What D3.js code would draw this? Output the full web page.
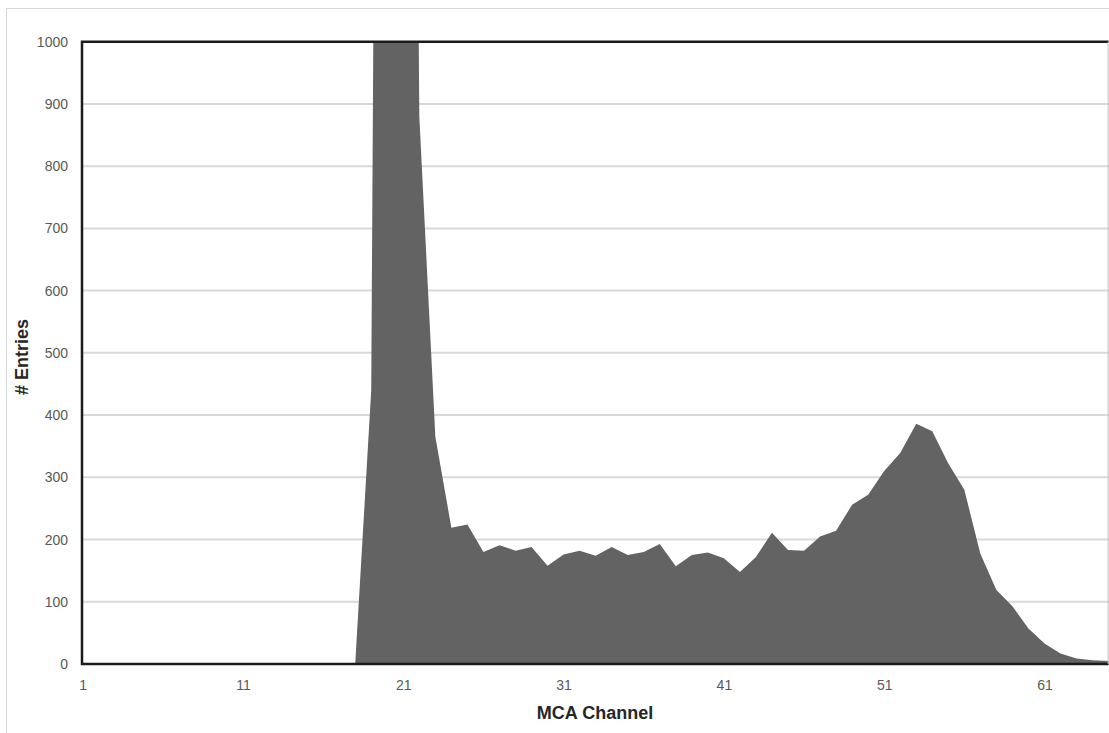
<!DOCTYPE html>
<html>
<head>
<meta charset="utf-8">
<script src="https://cdn.jsdelivr.net/npm/d3@7/dist/d3.min.js"></script>
<style>
  html, body { margin: 0; padding: 0; background: #ffffff; }
  svg { display: block; }
</style>
</head>
<body>
<svg id="chart" width="1109" height="733"></svg>
<script>
// MCA spectrum: counts per channel (channels 1..65)
const channels = d3.range(1, 66);
const entries = [
  0, 0, 0, 0, 0, 0, 0, 0, 0, 0,          // 1-10
  0, 0, 0, 0, 0, 0, 0, 0, 440, 4800,     // 11-20
  4200, 880, 365, 219, 224, 180, 191, 182, 188, 158, // 21-30
  176, 182, 174, 188, 175, 180, 193, 157, 175, 179,  // 31-40
  170, 148, 172, 211, 183, 182, 205, 214, 256, 272,  // 41-50
  310, 339, 386, 374, 322, 280, 177, 119, 93, 57,    // 51-60
  33, 17, 9, 6, 5                                    // 61-65
];
const xTickValues = [1, 11, 21, 31, 41, 51, 61];
const yTickValues = [0, 100, 200, 300, 400, 500, 600, 700, 800, 900, 1000];

const svg = d3.select("#chart");

// outer chart frame
svg.append("rect")
  .attr("x", 6.5).attr("y", 8.5)
  .attr("width", 1120).attr("height", 740)
  .attr("fill", "none")
  .attr("stroke", "#d9d9d9")
  .attr("stroke-width", 1);

const plotLeft = 82, plotRight = 1108.6, plotTop = 41.7, plotBottom = 664;

const x = d3.scaleLinear().domain([1, 65]).range([plotLeft + 0.7, plotRight]);
const y = d3.scaleLinear().domain([0, 1000]).range([plotBottom, plotTop]);

// horizontal gridlines
svg.append("g")
  .selectAll("line")
  .data(yTickValues.filter(d => d > 0 && d < 1000))
  .join("line")
  .attr("x1", plotLeft).attr("x2", plotRight)
  .attr("y1", d => y(d)).attr("y2", d => y(d))
  .attr("stroke", "#d9d9d9")
  .attr("stroke-width", 2);

// clip the series to the plot area (peak runs off the top)
svg.append("clipPath").attr("id", "plotClip")
  .append("rect")
  .attr("x", plotLeft).attr("y", plotTop)
  .attr("width", plotRight - plotLeft).attr("height", plotBottom - plotTop);

const area = d3.area()
  .x((d, i) => x(channels[i]))
  .y0(y(0))
  .y1(d => y(d));

svg.append("path")
  .datum(entries)
  .attr("clip-path", "url(#plotClip)")
  .attr("d", area)
  .attr("fill", "#636363");

// plot frame: left, top and bottom in dark, right in grey
svg.append("path")
  .attr("d", `M${plotRight},${plotTop} L${plotLeft},${plotTop} L${plotLeft},${plotBottom} L${plotRight},${plotBottom}`)
  .attr("fill", "none")
  .attr("stroke", "#1a1a1a")
  .attr("stroke-width", 2.5);
svg.append("line")
  .attr("x1", plotRight - 0.5).attr("x2", plotRight - 0.5)
  .attr("y1", plotTop).attr("y2", plotBottom)
  .attr("stroke", "#bfbfbf")
  .attr("stroke-width", 1);

// y axis labels
const yAxis = d3.axisLeft(y).tickValues(yTickValues).tickSize(0).tickPadding(14).tickFormat(d3.format("d"));
const gy = svg.append("g").attr("transform", `translate(${plotLeft},0)`).call(yAxis);
gy.select(".domain").remove();
gy.selectAll("text")
  .attr("font-family", "'Liberation Sans', Arial, sans-serif")
  .attr("font-size", 14)
  .attr("fill", "#595959");

// x axis labels
const xAxis = d3.axisBottom(x).tickValues(xTickValues).tickSize(0).tickPadding(16).tickFormat(d3.format("d"));
const gx = svg.append("g").attr("transform", `translate(0,${plotBottom})`).call(xAxis);
gx.select(".domain").remove();
gx.selectAll("text")
  .attr("font-family", "'Liberation Sans', Arial, sans-serif")
  .attr("font-size", 14)
  .attr("fill", "#595959");

// axis titles
svg.append("text")
  .attr("x", 595).attr("y", 719)
  .attr("text-anchor", "middle")
  .attr("font-family", "'Liberation Sans', Arial, sans-serif")
  .attr("font-weight", "bold")
  .attr("font-size", 18)
  .attr("fill", "#262626")
  .text("MCA Channel");

svg.append("text")
  .attr("transform", "translate(28,357) rotate(-90)")
  .attr("text-anchor", "middle")
  .attr("font-family", "'Liberation Sans', Arial, sans-serif")
  .attr("font-weight", "bold")
  .attr("font-size", 18)
  .attr("fill", "#262626")
  .text("# Entries");
</script>
</body>
</html>
